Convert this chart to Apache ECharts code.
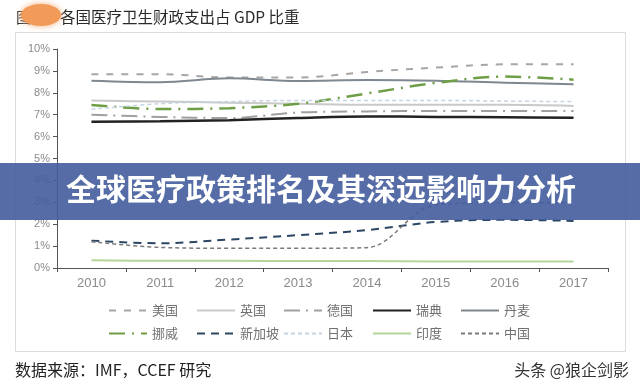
<!DOCTYPE html>
<html>
<head>
<meta charset="utf-8">
<script src="https://cdn.jsdelivr.net/npm/echarts@6/dist/echarts.min.js"></script>
<style>
html,body{margin:0;padding:0;background:#fff;}
#c{width:640px;height:385px;}
</style>
</head>
<body>
<div id="c"></div>
<script>
var years = ['2010','2011','2012','2013','2014','2015','2016','2017'];
var seriesNames = ['美国','英国','德国','瑞典','丹麦','挪威','新加坡','日本','印度','中国'];
var usa       = [8.85, 8.85, 8.7, 8.7, 8.95, 9.15, 9.3, 9.3];
var uk        = [7.65, 7.6, 7.55, 7.5, 7.45, 7.45, 7.45, 7.4];
var germany   = [7.0, 6.9, 6.85, 7.1, 7.15, 7.17, 7.17, 7.17];
var sweden    = [6.68, 6.7, 6.75, 6.85, 6.92, 6.9, 6.88, 6.86];
var denmark   = [8.55, 8.48, 8.66, 8.54, 8.58, 8.55, 8.46, 8.39];
var norway    = [7.44, 7.26, 7.3, 7.5, 7.97, 8.45, 8.74, 8.6];
var singapore = [1.25, 1.13, 1.3, 1.5, 1.73, 2.1, 2.2, 2.15];
var japan     = [7.25, 7.5, 7.6, 7.65, 7.65, 7.65, 7.62, 7.6];
var india     = [0.35, 0.33, 0.33, 0.32, 0.32, 0.3, 0.3, 0.3];
var china     = [1.2, 0.94, 0.9, 0.9, 0.93, 2.88, 2.98, 2.98];
var yMin = 0, yMax = 10, yStep = 1;

var chart = echarts.init(document.getElementById('c'));

function mk(name, data, color, width, type, z) {
  return {
    name: name, type: 'line', data: data, symbol: 'none', smooth: 0.35,
    z: z || 2,
    lineStyle: { color: color, width: width, type: type },
    itemStyle: { color: color }
  };
}

var styles = [
  ['#a6a6a6', 2, [7, 8]],
  ['#c9c9c9', 2, 'solid'],
  ['#a0a0a0', 2, [16, 6, 2, 6]],
  ['#222222', 2.5, 'solid'],
  ['#7f8890', 2, 'solid'],
  ['#6e9e45', 2.5, [16, 7, 2, 7]],
  ['#2b4764', 2, [8, 6]],
  ['#c6d4e2', 1.5, [4, 3]],
  ['#b5d59c', 2, 'solid'],
  ['#7a7a7a', 1.5, [4, 3]]
];
var datas = [usa, uk, germany, sweden, denmark, norway, singapore, japan, india, china];
var series = [];
for (var i = 0; i < seriesNames.length; i++) {
  series.push(mk(seriesNames[i], datas[i], styles[i][0], styles[i][1], styles[i][2]));
}

var cols = [108, 196, 283, 372, 460];
var legends = [];
for (var j = 0; j < seriesNames.length; j++) {
  legends.push({
    data: [seriesNames[j]],
    left: cols[j % 5],
    top: j < 5 ? 304 : 327,
    padding: 0,
    itemWidth: 38,
    itemHeight: 14,
    itemGap: 0,
    selectedMode: false,
    itemStyle: { opacity: 0, color: 'rgba(0,0,0,0)', borderWidth: 0 },
    lineStyle: { width: 2 },
    textStyle: { fontSize: 13, color: '#707070', fontFamily: 'Noto Sans CJK SC' }
  });
}

chart.setOption({
  animation: false,
  backgroundColor: '#ffffff',
  grid: { left: 57, right: 32, top: 49, bottom: 117 },
  legend: legends,
  xAxis: {
    type: 'category',
    data: years,
    boundaryGap: true,
    axisLine: { lineStyle: { color: '#555555', width: 1 } },
    axisTick: { show: true, alignWithLabel: false, length: 4, lineStyle: { color: '#555555' } },
    axisLabel: { color: '#8a8a8a', fontSize: 13, margin: 9, fontFamily: 'Liberation Sans' },
    splitLine: { show: false }
  },
  yAxis: {
    type: 'value',
    min: yMin, max: yMax, interval: yStep,
    axisLine: { show: true, lineStyle: { color: '#555555', width: 1 } },
    axisTick: { show: true, length: 4, lineStyle: { color: '#555555' } },
    axisLabel: { color: '#8a8a8a', fontSize: 11, margin: 7, formatter: '{value}%', fontFamily: 'Liberation Sans' },
    splitLine: { show: false }
  },
  series: series,
  graphic: [
    { type: 'rect', z: -10, silent: true,
      shape: { x: 15.5, y: 32.5, width: 610, height: 319 },
      style: { fill: 'none', stroke: '#dcdcdc', lineWidth: 1 } },
    { type: 'text', left: 16, top: 10, z: 5,
      style: { text: '图', fontSize: 15, fill: '#333', fontFamily: 'Noto Sans CJK SC' } },
    { type: 'ellipse', z: 6, silent: true,
      shape: { cx: 41, cy: 15, rx: 20, ry: 11 },
      style: { fill: '#f29a58', shadowBlur: 6, shadowColor: '#f5b07c' } },
    { type: 'text', left: 60, top: 9, z: 5,
      style: { text: '各国医疗卫生财政支出占 GDP 比重', fontSize: 15.5, fill: '#2a2a2a', fontFamily: 'Noto Sans CJK SC' } },
    { type: 'rect', z: 100, silent: true,
      shape: { x: 0, y: 163, width: 640, height: 57 },
      style: { fill: 'rgba(68, 92, 156, 0.9)' } },
    { type: 'text', left: 66, top: 174, z: 101,
      style: { text: '全球医疗政策排名及其深远影响力分析', fontSize: 30, fontWeight: 'bold', fill: '#ffffff', fontFamily: 'Noto Sans CJK SC' } },
    { type: 'text', left: 15, top: 362, z: 5,
      style: { text: '数据来源：IMF，CCEF 研究', fontSize: 16, fill: '#222', fontFamily: 'Noto Sans CJK SC' } },
    { type: 'text', right: 11, top: 362, z: 5,
      style: { text: '头条 @狼企剑影', fontSize: 16, fill: '#333', fontFamily: 'Noto Sans CJK SC' } }
  ]
});
</script>
</body>
</html>
